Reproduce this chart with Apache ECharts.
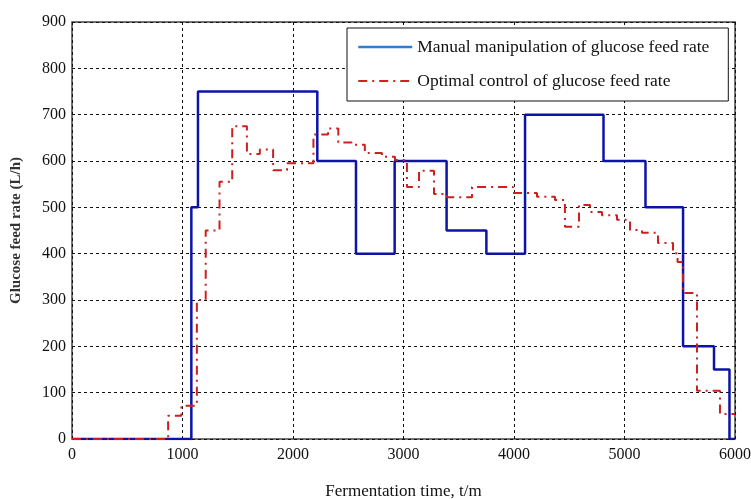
<!DOCTYPE html>
<html>
<head>
<meta charset="utf-8">
<script src="https://cdn.jsdelivr.net/npm/echarts@6/dist/echarts.min.js"></script>
<style>
  html, body { margin: 0; padding: 0; background: #fff; }
  #chart { width: 751px; height: 499px; }
</style>
</head>
<body>
<div id="chart"></div>
<script>
  // manual feed: each rate holds from its time to the next time
  const manualTimes = [0, 1080, 1140, 2220, 2570, 2920, 3390, 3750, 4100, 4810, 5190, 5530, 5810, 5950, 6000]
  const manualRates = [0, 500, 750, 600, 400, 600, 450, 400, 700, 600, 500, 200, 150, 0, 0]

  // optimal control feed
  const optimalTimes = [0, 870, 990, 1130, 1210, 1335, 1450, 1583, 1700, 1820, 1946, 2185, 2317, 2410, 2530, 2650, 2805, 2923,
    3031, 3140, 3276, 3394, 3620, 3990, 4208, 4371, 4461, 4588, 4688, 4796, 4932, 5050, 5158, 5303, 5439, 5480, 5530, 5656, 5864, 6000]
  const optimalRates = [0, 50, 72, 300, 450, 555, 675, 615, 625, 580, 595, 657, 670, 640, 635, 617, 609, 602,
    544, 579, 529, 522, 544, 531, 523, 516, 458, 505, 490, 483, 473, 451, 445, 423, 401, 382, 315, 104, 54, 54]

  const nameManual = 'Manual manipulation of glucose feed rate'
  const nameOptimal = 'Optimal control of glucose feed rate'

  const pairs = (xs, ys) => xs.map((x, i) => [x, ys[i]])

  const serif = 'Liberation Serif'
  const gridLine = { show: true, lineStyle: { color: '#111', type: [3, 3], width: 1 } }

  let myChart = echarts.init(document.getElementById('chart'))
  myChart.setOption({
    animation: false,
    grid: {
      left: 72, right: 16, top: 22, bottom: 60,
      outerBoundsMode: 'none',
      show: true, borderColor: '#444', borderWidth: 1.5, backgroundColor: '#fff'
    },
    legend: {
      left: 347, top: 28,
      orient: 'vertical',
      padding: [10, 19, 11, 10],
      itemGap: 16,
      itemWidth: 54,
      itemHeight: 14,
      backgroundColor: '#fff',
      borderColor: '#111',
      borderWidth: 1,
      textStyle: { fontFamily: serif, fontSize: 17.5, color: '#111' },
      data: [
        { name: nameManual, itemStyle: { opacity: 0 }, lineStyle: { color: '#2d7fd0', width: 2.5 } },
        { name: nameOptimal, itemStyle: { opacity: 0 }, lineStyle: { color: '#d42020', width: 2 } }
      ]
    },
    xAxis: {
      type: 'value',
      min: 0, max: 6000, interval: 1000,
      name: 'Fermentation time, t/m',
      nameLocation: 'middle',
      nameGap: 44,
      nameTextStyle: { fontFamily: serif, fontSize: 17, color: '#111' },
      axisLine: { show: false },
      axisTick: { show: false },
      axisLabel: { fontFamily: serif, fontSize: 16, color: '#111', margin: 8, formatter: v => String(v) },
      splitLine: gridLine
    },
    yAxis: {
      type: 'value',
      min: 0, max: 900, interval: 100,
      name: 'Glucose feed rate (L/h)',
      nameLocation: 'middle',
      nameGap: 48,
      nameTextStyle: { fontFamily: serif, fontSize: 15, fontWeight: 'bold', color: '#333' },
      axisLine: { show: false },
      axisTick: { show: false },
      axisLabel: { fontFamily: serif, fontSize: 16, color: '#111', margin: 6, formatter: v => String(v) },
      splitLine: gridLine
    },
    series: [
      {
        name: nameManual,
        type: 'line',
        step: 'end',
        symbol: 'none',
        lineStyle: { color: '#0c14a8', width: 2.5 },
        itemStyle: { color: '#0c14a8' },
        data: pairs(manualTimes, manualRates)
      },
      {
        name: nameOptimal,
        type: 'line',
        step: 'end',
        symbol: 'none',
        lineStyle: { color: '#cc1f1f', width: 2, type: [9, 5, 2, 5] },
        itemStyle: { color: '#cc1f1f' },
        data: pairs(optimalTimes, optimalRates)
      }
    ]
  })
</script>
</body>
</html>
